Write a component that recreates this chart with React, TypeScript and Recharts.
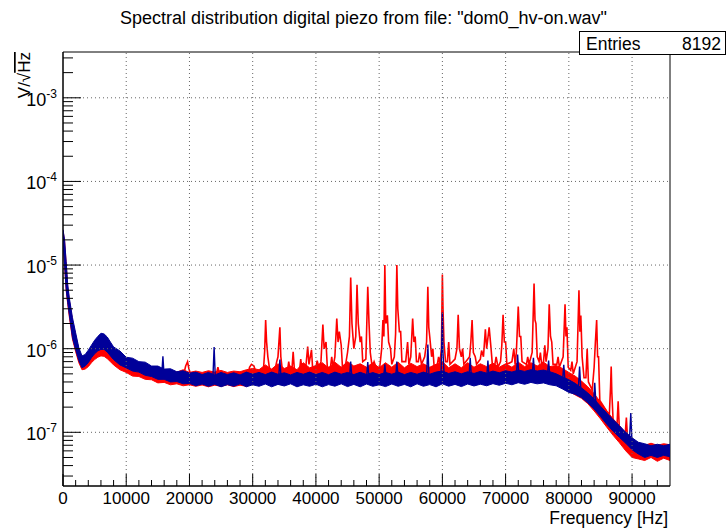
import React from 'react';
import {
  ComposedChart,
  Area,
  Line,
  XAxis,
  YAxis,
  ReferenceLine,
  ReferenceArea,
} from 'recharts';

// all amplitudes below are in units of 1e-7 V/sqrt(Hz)
const UNIT = 1e-7;
const X_MAX = 96000;
const Y_MIN = 2.28e-8;
const Y_MAX = 3.53e-3;
const ENTRIES = 8192;

const RED = '#ff0000';
const BLUE = '#000099';

const bandFreq = [
  0, 250, 500, 750, 1000, 1500, 2000, 2500, 3000, 3500, 4000, 4500, 5000, 5500, 6000, 6500, 7000, 7500, 8000,
  9000, 10000, 11000, 12000, 13000, 14000, 15000, 16000, 17000, 18000, 19000, 20000,
  21000, 22000, 23000, 24000, 25000, 26000, 27000, 28000, 29000, 30000,
  31000, 32000, 33000, 34000, 35000, 36000, 37000, 38000, 39000, 40000,
  41000, 42000, 43000, 44000, 45000, 46000, 47000, 48000, 49000, 50000,
  51000, 52000, 53000, 54000, 55000, 56000, 57000, 58000, 59000, 60000,
  61000, 62000, 63000, 64000, 65000, 66000, 67000, 68000, 69000, 70000,
  71000, 72000, 73000, 74000, 75000, 76000, 77000, 78000, 79000, 80000,
  81000, 82000, 83000, 84000, 85000, 86000, 87000, 88000, 89000, 90000,
  91000, 92000, 93000, 94000, 95000, 96000,
];

const blueLow = [
  200, 101, 51, 35.5, 25.5, 13.5, 9.7, 7.2, 5.9, 6.2, 6.8, 7.8, 8.7, 9.4, 9.8, 9.8, 9.1, 8.2, 7.4,
  6.4, 5.9, 5.4, 5.25, 4.8, 4.65, 4.3, 4.3, 4.0, 4.05, 3.8, 3.85,
  3.6, 3.78, 3.55, 3.75, 3.5, 3.72, 3.55, 3.8, 3.5, 3.7,
  3.55, 3.78, 3.5, 3.74, 3.58, 3.8, 3.5, 3.7, 3.55, 3.76,
  3.5, 3.72, 3.56, 3.8, 3.52, 3.74, 3.5, 3.78, 3.55, 3.7,
  3.52, 3.78, 3.55, 3.74, 3.5, 3.8, 3.55, 3.72, 3.5, 3.8,
  3.56, 3.74, 3.52, 3.78, 3.58, 3.76, 3.6, 3.82, 3.65, 3.86,
  3.7, 3.92, 3.75, 3.95, 3.8, 3.9, 3.7, 3.6, 3.3, 3.0,
  2.85, 2.6, 2.25, 1.9, 1.55, 1.25, 1.03, 0.87, 0.74, 0.62,
  0.55, 0.5, 0.53, 0.5, 0.53, 0.51,
];

const blueHigh = [
  265, 201, 110, 58, 40.5, 23.5, 15.5, 10.3, 8.2, 8.5, 9.6, 11.0, 12.6, 14.0, 15.3, 15.0, 13.8, 12.0, 10.5,
  9.4, 7.9, 7.7, 7.0, 6.9, 6.2, 6.2, 5.7, 5.75, 5.3, 5.45, 5.1,
  5.25, 4.9, 5.2, 4.85, 5.2, 4.9, 5.15, 4.85, 5.25, 4.95,
  5.2, 4.9, 5.25, 4.95, 5.15, 4.85, 5.2, 4.95, 5.25, 4.9,
  5.2, 4.88, 5.25, 4.95, 5.2, 4.9, 5.22, 4.92, 5.18, 4.9,
  5.2, 4.95, 5.25, 4.9, 5.2, 4.95, 5.25, 4.95, 5.25, 5.4,
  5.05, 5.3, 5.0, 5.3, 5.05, 5.35, 5.1, 5.4, 5.15, 5.45,
  5.25, 5.55, 5.35, 5.6, 5.4, 5.55, 5.3, 5.0, 4.6, 4.25,
  3.85, 3.4, 2.95, 2.5, 2.05, 1.7, 1.42, 1.2, 1.0, 0.86,
  0.76, 0.73, 0.69, 0.72, 0.69, 0.72,
];

const redLow = [
  195, 98, 50, 34, 24, 13, 9.2, 6.8, 5.6, 5.7, 6.1, 6.8, 7.4, 7.9, 8.2, 8.1, 7.6, 7.0, 6.4,
  5.6, 5.2, 4.7, 4.65, 4.3, 4.25, 3.9, 3.95, 3.7, 3.8, 3.6, 3.7,
  3.55, 3.68, 3.5, 3.66, 3.55, 3.7, 3.52, 3.66, 3.55, 3.8,
  3.9, 3.92, 3.88, 3.95, 3.9, 3.92, 3.88, 3.94, 3.9, 3.92,
  3.9, 3.94, 3.88, 3.92, 3.9, 3.95, 3.88, 3.92, 3.9, 3.94,
  3.9, 3.92, 3.88, 3.94, 3.9, 3.92, 3.88, 3.94, 3.9, 3.95,
  3.9, 3.92, 3.88, 3.94, 3.9, 3.92, 3.9, 3.95, 3.95, 4.0,
  4.0, 4.0, 4.05, 4.05, 4.05, 4.0, 3.95, 3.8, 3.4, 3.1,
  2.8, 2.55, 2.2, 1.8, 1.45, 1.15, 0.92, 0.75, 0.6, 0.5,
  0.48, 0.46, 0.5, 0.45, 0.49, 0.46,
];

const redHigh = [
  260, 195, 105, 55, 38, 22, 14.5, 9.8, 7.8, 7.9, 8.6, 9.6, 10.6, 11.4, 11.9, 11.6, 10.9, 10.0, 9.0,
  8.2, 7.0, 6.9, 6.3, 6.2, 5.7, 5.7, 5.4, 5.5, 5.25, 5.6, 5.2,
  5.4, 5.2, 5.45, 5.25, 5.5, 5.2, 5.4, 5.3, 5.6, 5.8,
  5.6, 6.4, 5.7, 6.6, 5.8, 6.2, 5.6, 6.8, 5.9, 6.3,
  6.8, 5.9, 6.9, 6.0, 7.0, 6.2, 6.6, 6.0, 6.8, 5.9,
  6.8, 6.0, 6.9, 5.9, 6.7, 6.1, 6.6, 6.0, 6.5, 7.0,
  5.9, 6.6, 5.9, 6.8, 6.0, 6.6, 6.1, 6.7, 6.0, 6.6,
  6.0, 6.9, 6.1, 6.8, 6.2, 6.9, 6.1, 6.3, 5.8, 5.2,
  4.7, 4.1, 3.5, 2.9, 2.3, 1.8, 1.45, 1.2, 0.98, 0.82,
  0.74, 0.7, 0.74, 0.7, 0.73, 0.71,
];

// narrow lines sticking out of the noise (Hz / 1e-7 V/sqrt(Hz))
const redPeakFreq = [
  19000, 19400, 19700, 19900, 20300,
  24200, 24500, 24800,
  29300, 29500, 29800, 30200, 30500,
  31700, 31900, 32050, 32200, 32400, 32700,
  33500, 33800, 34000, 34300, 34450, 34700,
  35500, 35700, 35900, 36200, 36400, 36600,
  37400, 37600, 37800, 38400, 38700, 38900, 39300, 39500,
  40000, 40200, 40500, 40800, 41100, 41300, 41600, 41800,
  42300, 42500, 42700, 43000, 43300, 43500, 43700, 44000, 44200,
  44700, 45000, 45300, 45500, 45700, 46000, 46300, 46500, 46700, 47000, 47200, 47400,
  47900, 48200, 48400, 48600, 48900, 49200, 49500,
  50100, 50400, 50600, 50750, 50900, 51050, 51300, 51500, 51800, 52000,
  52400, 52600, 52800, 52950, 53200, 53400, 53600,
  54200, 54500, 54700, 55000, 55300, 55500, 55700, 55900,
  56200, 56400, 56700, 57200, 57500, 57700, 57850, 58000, 58300, 58500, 58700,
  59200, 59400, 59600, 59850, 60000, 60100, 60250, 60500,
  60800, 61000, 61200, 62000, 62300, 62500, 62700, 63000, 63200, 63400,
  64300, 64500, 64700, 64900, 65200, 65400,
  66000, 66200, 66500, 66800, 67000, 67400, 67700, 67900,
  68300, 68500, 68800, 69200, 69400, 69600, 69800, 70000, 70200,
  71000, 71300, 71500, 71700, 72000, 72200, 72400, 72600,
  73300, 73500, 73700, 74200, 74500, 74650, 74800, 75000,
  75300, 75500, 75700, 76000, 76200, 76400, 76700, 76900, 77100, 77300, 77500,
  78100, 78300, 78500, 79100, 79400, 79550, 79700, 79900,
  80300, 80500, 80700, 81300, 81600, 81750, 81900, 82100, 82400,
  82700, 82900, 83100, 83700, 84000, 84200, 84400, 84550, 84700, 84900,
  86400, 86600, 86700, 86800, 87000, 87600, 87800, 88000, 88900, 89100, 89300,
];

const redPeakVal = [
  4.6, 6.2, 7.0, 5.8, 4.6,
  4.8, 6.0, 4.8,
  4.8, 6.0, 6.5, 6.2, 5.2,
  5.5, 9.5, 22, 12, 8, 5.5,
  5.5, 7, 8, 18, 8, 5.5,
  5.4, 7, 5.5, 5.5, 9.2, 5.5,
  5.4, 7.5, 5.5, 6, 10.6, 6.5, 9.7, 5.5,
  6.0, 7.2, 5.8, 7, 19.5, 10, 12, 6,
  6, 8, 6, 8, 23, 12, 16, 11, 6,
  6.5, 9, 14, 71, 20, 10, 14, 58, 20, 12, 14, 7,
  7.5, 55, 20, 9, 6, 7, 6,
  6, 10, 22, 14, 100, 20, 25, 12, 10, 6.5,
  8, 15, 100, 30, 16, 16, 7,
  7, 12, 6.5, 8, 23, 12, 14, 7,
  7, 9, 6.5, 8, 12, 55, 18, 14, 8, 10, 6,
  6.5, 8, 6.5, 10, 77, 30, 12, 7,
  7, 12, 6.5, 7.5, 10, 25.5, 10, 8, 10, 6.5,
  8, 12, 22, 9, 8, 6.5,
  7.5, 9.5, 8, 17, 10, 18, 10, 6.5,
  6.5, 8, 6, 7, 11, 25.5, 12, 12, 6.5,
  7, 10, 6.5, 9, 32, 14, 14, 7,
  6.5, 8, 6.5, 9, 60, 22, 20, 8,
  7, 9, 6.5, 7, 11, 7, 10, 34, 14, 12, 6.5,
  6.5, 8, 6, 8, 34, 14, 18, 6,
  5.5, 7, 5, 7, 50, 16, 25, 8, 4.5,
  4.5, 10, 4, 3.2, 6, 12, 22, 8, 8, 2.4,
  1.6, 3.5, 6.1, 3.0, 1.4, 1.15, 2.35, 1.05, 0.9, 1.5, 0.8,
];

const bluePeakFreq = [
  15600, 15800, 16000,
  23700, 23900, 24100,
  34100, 34300, 34500,
  45300, 45500, 45700,
  48000, 48200, 48400,
  50700, 50900, 51100,
  52600, 52800, 53000,
  57500, 57700, 57900,
  59800, 60000, 60100, 60300,
  64200, 64400, 64600,
  67000, 67200, 67400,
  71700, 71900, 72100,
  74200, 74400, 74600,
  76600, 76800, 77000,
  79000, 79200, 79400,
  81500, 81700, 81900,
  83900, 84100, 84300,
  86500,
  89600, 89800, 90000,
];

const bluePeakVal = [
  4.6, 8.1, 4.6,
  4.3, 10.5, 4.3,
  4.4, 7.4, 4.4,
  4.4, 7.0, 4.4,
  4.4, 6.9, 4.4,
  4.4, 6.5, 4.4,
  4.4, 7.0, 4.4,
  4.4, 11.2, 4.4,
  5.0, 27, 9, 4.4,
  4.4, 7.8, 4.4,
  4.4, 7.2, 4.4,
  4.6, 8.5, 4.6,
  4.7, 7.8, 4.7,
  4.6, 7.2, 4.6,
  4.1, 6.4, 4.0,
  3.3, 6.1, 3.2,
  2.2, 3.9, 2.1,
  1.45,
  0.85, 1.7, 0.72,
];

const xMajorTicks = [0, 10000, 20000, 30000, 40000, 50000, 60000, 70000, 80000, 90000];
const yMajorTicks = [1e-7, 1e-6, 1e-5, 1e-4, 1e-3];

const blueBand = bandFreq.map((f, i) => ({ f, blue: [blueLow[i] * UNIT, blueHigh[i] * UNIT] }));
const redBand = bandFreq.map((f, i) => ({ f, red: [redLow[i] * UNIT, redHigh[i] * UNIT] }));
const redPeaks = redPeakFreq.map((f, i) => ({ f, redPeak: redPeakVal[i] * UNIT }));
const bluePeaks = bluePeakFreq.map((f, i) => ({ f, bluePeak: bluePeakVal[i] * UNIT }));

// ROOT style: minor ticks every 2000 Hz, log minors 2..9 per decade
const xTicks: number[] = [];
for (let f = 0; f < X_MAX; f += 2000) xTicks.push(f);
const yTicks: number[] = [];
for (let e = -8; e <= -3; e++) {
  for (let m = 1; m <= 9; m++) {
    const v = m * Math.pow(10, e);
    if (v >= Y_MIN && v <= Y_MAX) yTicks.push(v);
  }
}

const FONT = '"Liberation Sans", Arial, Helvetica, sans-serif';

function XTick(props: any) {
  const { x, y, payload } = props;
  const v = payload.value;
  const major = xMajorTicks.includes(v);
  return (
    <g>
      <line x1={x} x2={x} y1={y} y2={y - (major ? 12 : 6)} stroke="#000" />
      {major && (
        <text x={x} y={y + 18} textAnchor="middle" fontSize={17} fontFamily={FONT} fill="#000">
          {v}
        </text>
      )}
    </g>
  );
}

function YTick(props: any) {
  const { x, y, payload } = props;
  const v = payload.value;
  const exp = Math.round(Math.log10(v));
  const major = Math.abs(Math.log10(v) - exp) < 1e-6;
  return (
    <g>
      <line x1={x} x2={x + (major ? 18 : 10)} y1={y} y2={y} stroke="#000" />
      {major && (
        <text x={x - 6} y={y + 8} textAnchor="end" fontSize={18} fontFamily={FONT} fill="#000">
          10
          <tspan dy={-8} fontSize={12}>
            {exp}
          </tspan>
        </text>
      )}
    </g>
  );
}

export default function App() {
  return (
    <div style={{ position: 'absolute', left: 0, top: 0, width: 727, height: 530, background: '#fff' }}>
      <ComposedChart width={727} height={530} margin={{ top: 52, right: 57, bottom: 0, left: 0 }}>
        <XAxis
          type="number"
          dataKey="f"
          domain={[0, X_MAX]}
          allowDataOverflow
          ticks={xTicks}
          interval={0}
          tick={(p: any) => <XTick {...p} />}
          tickSize={0}
          tickMargin={0}
          height={44}
          axisLine={{ stroke: '#000' }}
        />
        <YAxis
          type="number"
          scale="log"
          domain={[Y_MIN, Y_MAX]}
          allowDataOverflow
          ticks={yTicks}
          interval={0}
          tick={(p: any) => <YTick {...p} />}
          tickSize={0}
          tickMargin={0}
          width={63}
          axisLine={{ stroke: '#000' }}
        />
        {xMajorTicks.slice(1).map((v) => (
          <ReferenceLine key={'gx' + v} x={v} stroke="#666" strokeDasharray="1 3" />
        ))}
        {yMajorTicks.map((v) => (
          <ReferenceLine key={'gy' + v} y={v} stroke="#666" strokeDasharray="1 3" />
        ))}
        <Area
          data={redBand}
          dataKey="red"
          type="linear"
          stroke={RED}
          strokeWidth={1}
          fill={RED}
          fillOpacity={1}
          dot={false}
          activeDot={false}
          isAnimationActive={false}
          zIndex={100}
        />
        <Line
          data={redPeaks}
          dataKey="redPeak"
          type="linear"
          stroke={RED}
          strokeWidth={1.6}
          dot={false}
          activeDot={false}
          isAnimationActive={false}
          zIndex={110}
        />
        <Area
          data={blueBand}
          dataKey="blue"
          type="linear"
          stroke={BLUE}
          strokeWidth={1}
          fill={BLUE}
          fillOpacity={1}
          dot={false}
          activeDot={false}
          isAnimationActive={false}
          zIndex={120}
        />
        <Line
          data={bluePeaks}
          dataKey="bluePeak"
          type="linear"
          stroke={BLUE}
          strokeWidth={1.4}
          dot={false}
          activeDot={false}
          isAnimationActive={false}
          zIndex={130}
        />
        <ReferenceArea x1={0} x2={X_MAX} y1={Y_MIN} y2={Y_MAX} fill="none" stroke="#000" strokeWidth={1} />
      </ComposedChart>
      <svg
        width={727}
        height={530}
        style={{ position: 'absolute', left: 0, top: 0, pointerEvents: 'none' }}
        fontFamily={FONT}
      >
        <text x={363.5} y={24} textAnchor="middle" fontSize={18} fill="#000">
          Spectral distribution digital piezo from file: "dom0_hv-on.wav"
        </text>
        <rect x={579.5} y={31.5} width={146} height={23} fill="#fff" stroke="#000" />
        <text x={586} y={50} fontSize={17.5} fill="#000">
          Entries
        </text>
        <text x={721} y={50} fontSize={17.5} textAnchor="end" fill="#000">
          {ENTRIES}
        </text>
        <text transform="rotate(-90)" x={-52} y={30} textAnchor="end" fontSize={17} fill="#000">
          V/√<tspan textDecoration="overline">Hz</tspan>
        </text>
        <text x={668} y={524} textAnchor="end" fontSize={17.5} fill="#000">
          Frequency [Hz]
        </text>
      </svg>
    </div>
  );
}
